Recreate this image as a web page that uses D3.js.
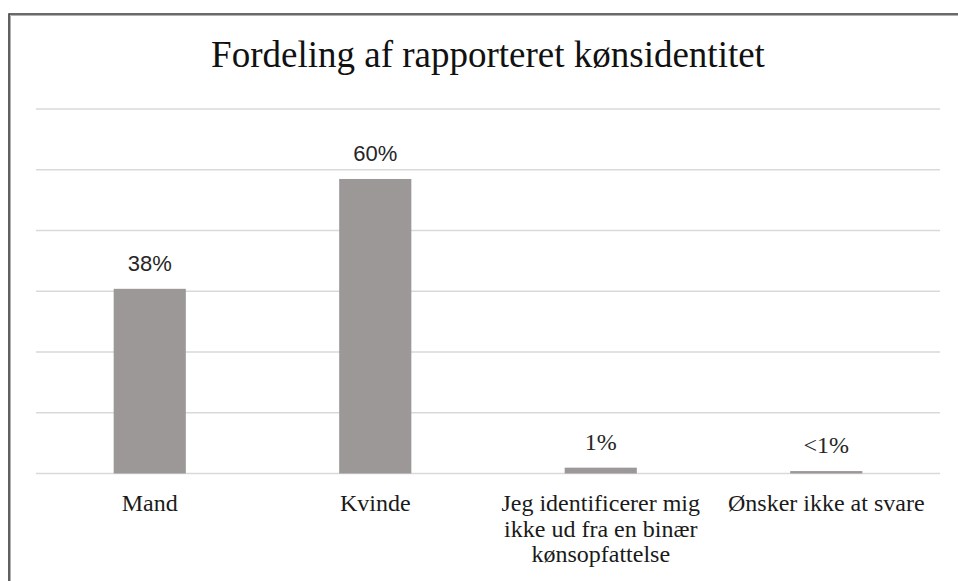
<!DOCTYPE html>
<html>
<head>
<meta charset="utf-8">
<script src="https://cdn.jsdelivr.net/npm/d3@7"></script>
<style>
  html, body { margin: 0; padding: 0; background: #fff; overflow: hidden; }
  svg { display: block; overflow: hidden; }
</style>
</head>
<body>
<svg id="chart" width="958" height="581"></svg>
<script>
const title = "Fordeling af rapporteret kønsidentitet";
const categories = ["Mand", "Kvinde", "Jeg identificerer mig ikke ud fra en binær kønsopfattelse", "Ønsker ikke at svare"];
const categoryLines = [["Mand"], ["Kvinde"], ["Jeg identificerer mig", "ikke ud fra en binær", "kønsopfattelse"], ["Ønsker ikke at svare"]];
const values = [38, 60.6, 1.2, 0.5];
const valueLabels = ["38%", "60%", "1%", "<1%"];
const gridTicks = [0, 12.5, 25, 37.5, 50, 62.5, 75];

const serif = "Liberation Serif, Times New Roman, DejaVu Serif, serif";
const sans = "Liberation Sans, Arial, sans-serif";

const svg = d3.select("#chart");

// frame: only its top and left edges fall inside the picture
svg.append("path")
  .attr("d", "M9,600 V14 H958")
  .attr("fill", "none")
  .attr("stroke", "#3a3a3a")
  .attr("stroke-width", 1.6);
svg.append("path")
  .attr("d", "M10.5,600 V15.5 H958")
  .attr("fill", "none")
  .attr("stroke", "#b0b0b0")
  .attr("stroke-width", 1);

const x = d3.scaleBand()
  .domain(categories)
  .range([37, 939])
  .paddingInner(0.68)
  .paddingOuter(0.34);

const y = d3.scaleLinear()
  .domain([0, 75])
  .range([473.5, 109]);

svg.append("g")
  .selectAll("line")
  .data(gridTicks)
  .join("line")
  .attr("x1", 36).attr("x2", 940)
  .attr("y1", d => y(d)).attr("y2", d => y(d))
  .attr("stroke", "#d9d9d9")
  .attr("stroke-width", 1.5);

svg.append("text")
  .attr("x", 488)
  .attr("y", 66.5)
  .attr("text-anchor", "middle")
  .style("font-family", serif)
  .attr("font-size", 37)
  .attr("fill", "#111")
  .text(title);

svg.append("g")
  .selectAll("rect")
  .data(values)
  .join("rect")
  .attr("x", (d, i) => x(categories[i]))
  .attr("width", x.bandwidth())
  .attr("y", d => y(d))
  .attr("height", d => y(0) - y(d))
  .attr("fill", "#9c9897");

svg.append("g")
  .selectAll("text")
  .data(values)
  .join("text")
  .attr("x", (d, i) => x(categories[i]) + x.bandwidth() / 2)
  .attr("y", d => y(d) - 18)
  .attr("text-anchor", "middle")
  .style("font-family", (d, i) => i < 2 ? sans : serif)
  .attr("font-size", (d, i) => i < 2 ? 22 : 24)
  .attr("fill", "#262626")
  .text((d, i) => valueLabels[i]);

const cat = svg.append("g")
  .selectAll("text")
  .data(categories)
  .join("text")
  .attr("x", d => x(d) + x.bandwidth() / 2)
  .attr("y", 511)
  .attr("text-anchor", "middle")
  .style("font-family", serif)
  .attr("font-size", 24)
  .attr("fill", "#1a1a1a");
cat.each(function(d, i) {
  const t = d3.select(this);
  categoryLines[i].forEach((line, j) => {
    t.append("tspan")
      .attr("x", x(d) + x.bandwidth() / 2)
      .attr("dy", j === 0 ? 0 : 25.5)
      .text(line);
  });
});
</script>
</body>
</html>
